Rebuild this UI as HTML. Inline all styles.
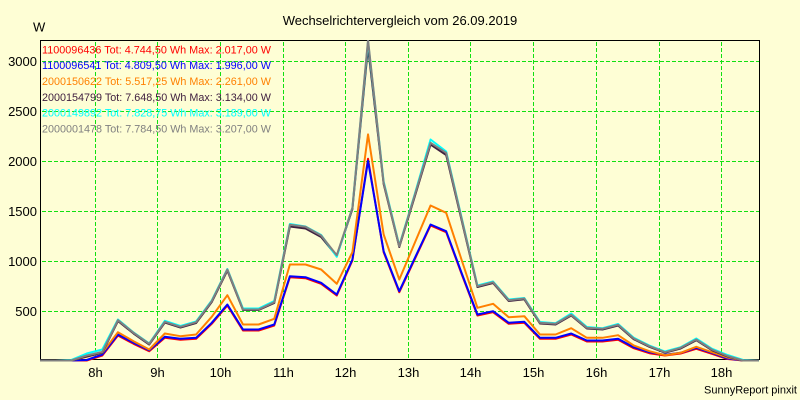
<!DOCTYPE html>
<html><head><meta charset="utf-8"><style>
html,body{margin:0;padding:0;background:#fefed5;}
svg{display:block;}
text{font-family:"Liberation Sans",Arial,sans-serif;}
</style></head><body>
<svg width="800" height="400" viewBox="0 0 800 400" xmlns="http://www.w3.org/2000/svg">
<rect x="0" y="0" width="800" height="400" fill="#fefed5"/>
<defs>
<clipPath id="pc"><rect x="40" y="40" width="720" height="321.5"/></clipPath>
<pattern id="hd" patternUnits="userSpaceOnUse" x="0" y="0" width="6" height="1"><rect x="0" y="0" width="4" height="1" fill="#11e011"/></pattern>
<pattern id="vd" patternUnits="userSpaceOnUse" x="0" y="0" width="1" height="6"><rect x="0" y="0" width="1" height="4" fill="#11e011"/></pattern>
</defs>
<!-- grid -->
<g fill="url(#hd)" shape-rendering="crispEdges">
<rect x="41" y="311" width="718" height="1"/>
<rect x="41" y="261" width="718" height="1"/>
<rect x="41" y="211" width="718" height="1"/>
<rect x="41" y="161" width="718" height="1"/>
<rect x="41" y="111" width="718" height="1"/>
<rect x="41" y="61" width="718" height="1"/>
</g>
<g fill="url(#vd)" shape-rendering="crispEdges">
<rect x="95" y="41" width="1" height="318"/>
<rect x="157" y="41" width="1" height="318"/>
<rect x="220" y="41" width="1" height="318"/>
<rect x="283" y="41" width="1" height="318"/>
<rect x="345" y="41" width="1" height="318"/>
<rect x="408" y="41" width="1" height="318"/>
<rect x="470" y="41" width="1" height="318"/>
<rect x="533" y="41" width="1" height="318"/>
<rect x="596" y="41" width="1" height="318"/>
<rect x="659" y="41" width="1" height="318"/>
<rect x="721" y="41" width="1" height="318"/>
</g>
<!-- frame -->
<rect x="40.5" y="40.5" width="719" height="319" fill="none" stroke="#000" stroke-width="1" shape-rendering="crispEdges"/>
<!-- legend -->
<g font-size="11">
<text x="42" y="53.3" fill="#ff0000" textLength="229" lengthAdjust="spacingAndGlyphs">1100096436 Tot: 4.744,50 Wh Max: 2.017,00 W</text>
<text x="42" y="69.2" fill="#0000ff" textLength="229" lengthAdjust="spacingAndGlyphs">1100096541 Tot: 4.809,50 Wh Max: 1.996,00 W</text>
<text x="42" y="85" fill="#ff8000" textLength="229" lengthAdjust="spacingAndGlyphs">2000150622 Tot: 5.517,25 Wh Max: 2.261,00 W</text>
<text x="42" y="100.9" fill="#402040" textLength="229" lengthAdjust="spacingAndGlyphs">2000154799 Tot: 7.648,50 Wh Max: 3.134,00 W</text>
<text x="42" y="116.7" fill="#00ffff" textLength="229" lengthAdjust="spacingAndGlyphs">2000149892 Tot: 7.828,75 Wh Max: 3.189,00 W</text>
<text x="42" y="132.6" fill="#808080" textLength="229" lengthAdjust="spacingAndGlyphs">2000001478 Tot: 7.784,50 Wh Max: 3.207,00 W</text>
</g>
<!-- series -->
<g clip-path="url(#pc)" fill="none" stroke-width="2" stroke-linejoin="round">
<polyline stroke="#ff0000" points="39.8,360.5 55.43,360.5 71.06,360.5 86.69,360.5 102.32,355.5 117.95,335.5 133.58,343.8 149.21,351.2 164.84,337.8 180.47,339.8 196.1,338.8 211.73,323.8 227.36,305.5 242.99,330.5 258.62,330.5 274.25,325.5 289.88,277.2 305.51,278.2 321.14,283.8 336.77,295.5 352.4,260.5 368.03,158.8 383.66,252.2 399.29,292.2 414.92,258.8 430.55,225.5 446.18,232.2 461.81,274.5 477.44,315.5 493.07,312.2 508.7,323.8 524.33,322.8 539.96,338.8 555.59,338.8 571.22,334.5 586.85,341.5 602.48,341.5 618.11,339.8 633.74,348.2 649.37,353.2 665,355.5 680.63,353.5 696.26,348.8 711.89,353.8 727.52,359 743.15,360.5 758.78,360.5"/>
<polyline stroke="#0000ff" points="39.8,360.5 55.43,360.5 71.06,360.5 86.69,360 102.32,354.5 117.95,334.5 133.58,342.8 149.21,350.2 164.84,336.8 180.47,338.8 196.1,337.8 211.73,322.8 227.36,304.5 242.99,329.5 258.62,329.5 274.25,324.5 289.88,276.2 305.51,277.2 321.14,282.8 336.77,294.5 352.4,259.5 368.03,160.9 383.66,251.2 399.29,291.2 414.92,257.8 430.55,224.5 446.18,231.2 461.81,273.5 477.44,314.5 493.07,311.2 508.7,322.8 524.33,321.8 539.96,337.8 555.59,337.8 571.22,333.5 586.85,340.5 602.48,340.5 618.11,338.8 633.74,347.2 649.37,352.2 665,354.8 680.63,352.8 696.26,347.8 711.89,352.8 727.52,358.5 743.15,360.5 758.78,360.5"/>
<polyline stroke="#ff8000" points="39.8,360.5 55.43,360.5 71.06,360.5 86.69,356.8 102.32,352.8 117.95,332.2 133.58,341.2 149.21,349.5 164.84,333.5 180.47,336.2 196.1,334.5 211.73,316.8 227.36,295.2 242.99,324.5 258.62,324.5 274.25,318.8 289.88,264.5 305.51,264.5 321.14,269.5 336.77,283.8 352.4,252.2 368.03,134.4 383.66,234.5 399.29,279.5 414.92,242.5 430.55,205.5 446.18,212.8 461.81,260.5 477.44,307.8 493.07,303.8 508.7,317.2 524.33,316.2 539.96,334.5 555.59,334.5 571.22,328.2 586.85,337.8 602.48,337.8 618.11,335.2 633.74,345.5 649.37,351.2 665,355.2 680.63,352.8 696.26,346.8 711.89,352.2 727.52,357.5 743.15,360.5 758.78,360.5"/>
<polyline stroke="#402040" points="39.8,360.5 55.43,360.5 71.06,360.5 86.69,356.5 102.32,352.5 117.95,321 133.58,333.5 149.21,344.5 164.84,322.5 180.47,327.5 196.1,323 211.73,302 227.36,270.5 242.99,310 258.62,310 274.25,303 289.88,226.5 305.51,228.5 321.14,237 336.77,256 352.4,209 368.03,47.1 383.66,184 399.29,247 414.92,196 430.55,144.5 446.18,155 461.81,221 477.44,287 493.07,283 508.7,301 524.33,299.3 539.96,323.5 555.59,324.5 571.22,315.5 586.85,328.5 602.48,329.5 618.11,325.5 633.74,339.2 649.37,346.8 665,352.7 680.63,348.5 696.26,340.2 711.89,350.2 727.52,356.5 743.15,360.5 758.78,360.5"/>
<polyline stroke="#00ffff" points="39.8,360.5 55.43,360.5 71.06,360 86.69,353.5 102.32,349.5 117.95,319.5 133.58,332.5 149.21,343.5 164.84,320.8 180.47,326 196.1,321.5 211.73,300.5 227.36,269 242.99,308.5 258.62,308.5 274.25,301 289.88,224 305.51,226.5 321.14,235 336.77,256.8 352.4,207.5 368.03,41.6 383.66,181.5 399.29,245.5 414.92,193.5 430.55,139.5 446.18,151.5 461.81,218.5 477.44,285.5 493.07,281.5 508.7,299.5 524.33,298 539.96,322 555.59,323.2 571.22,313.5 586.85,327 602.48,328.2 618.11,324 633.74,337.7 649.37,345.5 665,351.5 680.63,347.2 696.26,338.5 711.89,348.7 727.52,355 743.15,360 758.78,360.5"/>
<polyline stroke="#808080" points="39.8,360.5 55.43,360.5 71.06,360.5 86.69,355.5 102.32,352 117.95,320.2 133.58,332.8 149.21,343.8 164.84,321.8 180.47,326.8 196.1,322.2 211.73,301.2 227.36,269.5 242.99,309.5 258.62,309.5 274.25,302.2 289.88,224.8 305.51,226.8 321.14,235.5 336.77,255.2 352.4,207.8 368.03,39.8 383.66,182.8 399.29,246.2 414.92,194.5 430.55,142.8 446.18,152.8 461.81,219.5 477.44,286.2 493.07,282.2 508.7,300.2 524.33,298.5 539.96,322.8 555.59,323.8 571.22,314.8 586.85,327.8 602.48,328.8 618.11,324.8 633.74,338.5 649.37,346.2 665,352.2 680.63,347.8 696.26,339.5 711.89,349.5 727.52,356 743.15,360.5 758.78,360.5"/>
</g>
<!-- titles and labels -->
<text x="400" y="25" font-size="13" text-anchor="middle" fill="#000">Wechselrichtervergleich vom 26.09.2019</text>
<text x="33" y="31.5" font-size="13" fill="#000">W</text>
<g font-size="13" fill="#000" text-anchor="end">
<text x="37" y="66">3000</text>
<text x="37" y="116">2500</text>
<text x="37" y="166">2000</text>
<text x="37" y="216">1500</text>
<text x="37" y="266">1000</text>
<text x="37" y="316">500</text>
</g>
<g font-size="13" fill="#000" text-anchor="middle">
<text x="95.5" y="377">8h</text>
<text x="157.5" y="377">9h</text>
<text x="220.5" y="377">10h</text>
<text x="283.5" y="377">11h</text>
<text x="345.5" y="377">12h</text>
<text x="408.5" y="377">13h</text>
<text x="470.5" y="377">14h</text>
<text x="533.5" y="377">15h</text>
<text x="596.5" y="377">16h</text>
<text x="659.5" y="377">17h</text>
<text x="721.5" y="377">18h</text>
</g>
<text x="797" y="393.5" font-size="11" text-anchor="end" fill="#000">SunnyReport pinxit</text>
</svg>
</body></html>
